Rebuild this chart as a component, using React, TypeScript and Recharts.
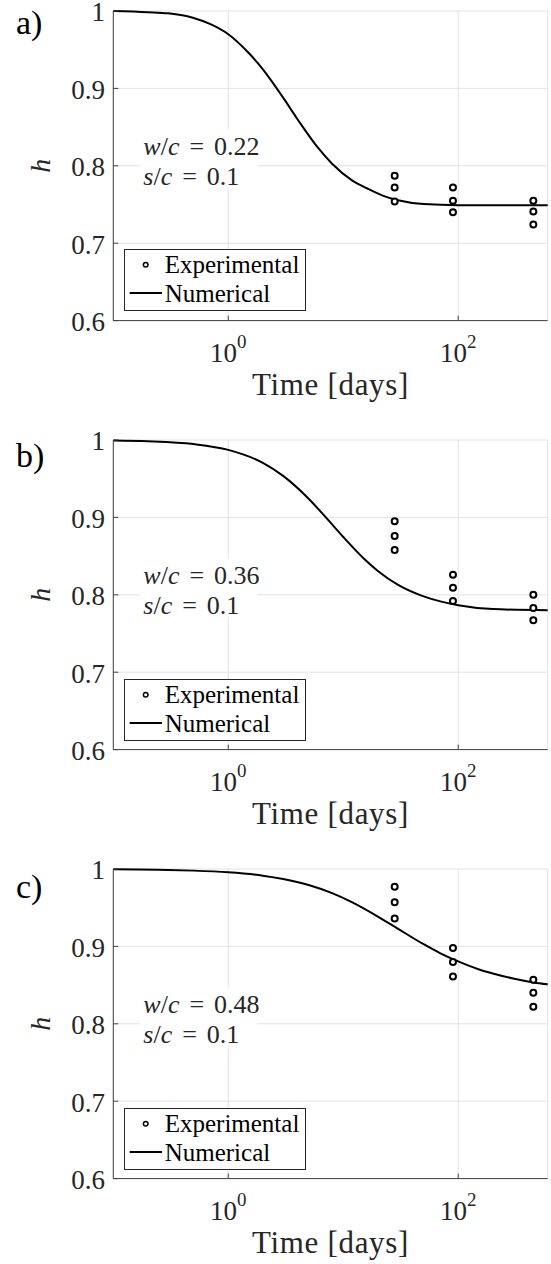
import React from "react";
import {
  CartesianGrid,
  ComposedChart,
  Customized,
  Legend,
  Line,
  Scatter,
  XAxis,
  YAxis,
} from "recharts";

// numerical curves (time in days, h)
const curveTimesA = [0.1, 0.2, 0.3, 0.5, 0.7, 1, 1.5, 2, 3, 4, 6, 8, 12, 16, 22, 30, 50, 100, 600];
const curveA = [1, 0.9985, 0.997, 0.991, 0.983, 0.97, 0.946, 0.9246, 0.888, 0.8602, 0.8237, 0.8026, 0.7808, 0.771, 0.7615, 0.7555, 0.7505, 0.749, 0.749];

const curveTimesB = [0.1, 0.2, 0.5, 1, 2, 3, 5, 7, 10, 15, 20, 30, 50, 70, 100, 200, 600];
const curveB = [0.9994, 0.9984, 0.9947, 0.9872, 0.9704, 0.9536, 0.9241, 0.9006, 0.8747, 0.8473, 0.8308, 0.8128, 0.798, 0.7915, 0.7865, 0.7815, 0.78];

const curveTimesC = [0.1, 0.3, 0.5, 1, 2, 3, 5, 8, 12, 20, 30, 50, 70, 100, 150, 200, 300, 450, 600];
const curveC = [0.9996, 0.9988, 0.9979, 0.9957, 0.9914, 0.9871, 0.9793, 0.9688, 0.9569, 0.9386, 0.9227, 0.9028, 0.8911, 0.8806, 0.8705, 0.865, 0.8585, 0.8535, 0.851];

// experimental points
const expTimes = [28, 28, 28, 90, 90, 90, 450, 450, 450];
const expA = [0.787, 0.772, 0.754, 0.772, 0.755, 0.74, 0.755, 0.741, 0.724];
const expB = [0.895, 0.876, 0.858, 0.826, 0.809, 0.792, 0.8, 0.783, 0.767];
const expC = [0.977, 0.957, 0.936, 0.898, 0.88, 0.861, 0.857, 0.84, 0.822];

const panelLabels = ["a)", "b)", "c)"];
const wcValues = ["0.22", "0.36", "0.48"];
const scValues = ["0.1", "0.1", "0.1"];

const xTicks = [1, 100];
const yTicks = [0.6, 0.7, 0.8, 0.9, 1];
const xDomain = [0.1, 600];
const yDomain = [0.6, 1];
const seriesNames = ["Experimental", "Numerical"];

const FONT = '"Liberation Serif", Tinos, "Times New Roman", "DejaVu Serif", serif';
const INK = "#262626";
const AXIS = "#404040";
const serif = { fontFamily: FONT };
const serifItalic = { fontFamily: FONT, fontStyle: "italic" as const };

const PLOT_LEFT = 113.3;
const PLOT_TOP = 30;
const PLOT_W = 434.4;
const PLOT_H = 309.6;
const CHART_W = 551;
const CHART_H = PLOT_TOP + PLOT_H + 84.7;

const toPoints = (ts: number[], hs: number[]) => ts.map((t, i) => ({ t, h: hs[i] }));

const YTick = ({ x, y, payload }: any) => (
  <text x={x} y={y} dy={10.5} textAnchor="end" fontSize={27} style={serif} fill={INK}>
    {payload.value === 1 ? "1" : payload.value.toFixed(1)}
  </text>
);

const PowerTick = ({ x, y, payload }: any) => (
  <text x={x} y={y + 41.4} textAnchor="middle" fontSize={27} style={serif} fill={INK}>
    <tspan>10</tspan>
    <tspan dy={-13.5} fontSize={19}>
      {Math.round(Math.log10(payload.value))}
    </tspan>
  </text>
);

const Hollow = ({ cx, cy }: any) => (
  <circle cx={cx} cy={cy} r={3} fill="#fff" stroke="#000" strokeWidth={2} />
);

function LegendBox() {
  return (
    <svg width={182} height={62} style={{ display: "block" }}>
      <rect x={0.5} y={0.5} width={181} height={61} fill="#fff" stroke={INK} strokeWidth={1} />
      <circle cx={21.7} cy={15.7} r={2.3} fill="#fff" stroke="#000" strokeWidth={1.5} />
      <text x={40.7} y={24} fontSize={25} style={serif} fill="#000">
        {seriesNames[0]}
      </text>
      <line x1={5.7} x2={38} y1={44} y2={44} stroke="#000" strokeWidth={2} />
      <text x={40.7} y={53.4} fontSize={25} style={serif} fill="#000">
        {seriesNames[1]}
      </text>
    </svg>
  );
}

function Decorations({ label, labelDy, wc, sc }: { label: string; labelDy: number; wc: string; sc: string }) {
  const line1 = PLOT_TOP + 144;
  const line2 = PLOT_TOP + 174;
  const plotBottom = PLOT_TOP + PLOT_H;
  const midY = PLOT_TOP + PLOT_H / 2;
  return (
    <g fill="#000">
      <text x={16} y={PLOT_TOP + labelDy} fontSize={34} style={serif}>
        {label}
      </text>
      <text
        x={41}
        y={midY}
        fontSize={28}
        style={serifItalic}
        textAnchor="middle"
        dominantBaseline="central"
        transform={`rotate(-90 41 ${midY})`}
        fill={INK}
      >
        h
      </text>
      <text
        x={PLOT_LEFT + PLOT_W / 2}
        y={plotBottom + 74.7}
        fontSize={31}
        style={serif}
        letterSpacing={0.7}
        textAnchor="middle"
        fill={INK}
      >
        Time [days]
      </text>
      <rect x={140} y={PLOT_TOP + 119} width={127} height={29} fill="#fff" />
      <rect x={140} y={PLOT_TOP + 148} width={117} height={29} fill="#fff" />
      <text x={143.3} y={line1} fontSize={26} style={serif} fill={INK}>
        <tspan style={serifItalic}>w</tspan>
        <tspan>/</tspan>
        <tspan style={serifItalic}>c</tspan>
        <tspan dx={10}>=</tspan>
        <tspan dx={10}>{wc}</tspan>
      </text>
      <text x={143.3} y={line2} fontSize={26} style={serif} fill={INK}>
        <tspan style={serifItalic}>s</tspan>
        <tspan>/</tspan>
        <tspan style={serifItalic}>c</tspan>
        <tspan dx={10}>=</tspan>
        <tspan dx={10}>{sc}</tspan>
      </text>
    </g>
  );
}

function HydrationPanel({
  curve,
  exp,
  label,
  labelDy,
  wc,
  sc,
}: {
  curve: { t: number; h: number }[];
  exp: { t: number; h: number }[];
  label: string;
  labelDy: number;
  wc: string;
  sc: string;
}) {
  return (
    <ComposedChart
      width={CHART_W}
      height={CHART_H}
      margin={{ top: PLOT_TOP, right: CHART_W - PLOT_LEFT - PLOT_W, bottom: 0, left: 0 }}
    >
      <CartesianGrid stroke="#e3e3e3" strokeWidth={1} />
      <XAxis
        dataKey="t"
        type="number"
        scale="log"
        domain={xDomain}
        ticks={xTicks}
        height={CHART_H - PLOT_TOP - PLOT_H}
        axisLine={{ stroke: AXIS }}
        tickLine={{ stroke: AXIS }}
        tickSize={-5}
        tickMargin={5}
        tick={<PowerTick />}
        interval={0}
      />
      <XAxis
        xAxisId="top"
        orientation="top"
        type="number"
        scale="log"
        domain={xDomain}
        ticks={xTicks}
        height={0}
        axisLine={{ stroke: AXIS }}
        tickLine={{ stroke: AXIS }}
        tickSize={-5}
        tick={false}
        interval={0}
      />
      <YAxis
        dataKey="h"
        type="number"
        domain={yDomain}
        ticks={yTicks}
        width={PLOT_LEFT}
        axisLine={{ stroke: AXIS }}
        tickLine={{ stroke: AXIS }}
        tickSize={-5}
        tickMargin={13.3}
        tick={<YTick />}
        interval={0}
      />
      <YAxis
        yAxisId="right"
        orientation="right"
        type="number"
        domain={yDomain}
        ticks={yTicks}
        width={0}
        axisLine={{ stroke: AXIS }}
        tickLine={{ stroke: AXIS }}
        tickSize={-5}
        tick={false}
        interval={0}
      />
      <Line
        data={curve}
        dataKey="h"
        type="monotone"
        stroke="#000"
        strokeWidth={2}
        dot={false}
        activeDot={false}
        isAnimationActive={false}
        name={seriesNames[1]}
      />
      <Scatter data={exp} dataKey="h" shape={<Hollow />} isAnimationActive={false} name={seriesNames[0]} />
      <Legend
        layout="vertical"
        align="center"
        verticalAlign="middle"
        wrapperStyle={{ left: 124.3, top: PLOT_TOP + 238.6, width: 182, height: 62 }}
        content={() => <LegendBox />}
      />
      <Customized component={() => <Decorations label={label} labelDy={labelDy} wc={wc} sc={sc} />} />
    </ComposedChart>
  );
}

// page y of each plot's top edge in the reference
const plotTops = [10.7, 440.3, 869];
const labelDys = [22.6, 27, 29.3];
const curves = [toPoints(curveTimesA, curveA), toPoints(curveTimesB, curveB), toPoints(curveTimesC, curveC)];
const exps = [toPoints(expTimes, expA), toPoints(expTimes, expB), toPoints(expTimes, expC)];

export default function App() {
  return (
    <div
      style={{
        position: "absolute",
        left: 0,
        top: 0,
        width: 551,
        height: 1264,
        background: "#fff",
        overflow: "hidden",
      }}
    >
      {panelLabels.map((label, i) => (
        <div key={label} style={{ position: "absolute", left: 0, top: plotTops[i] - PLOT_TOP }}>
          <HydrationPanel
            curve={curves[i]}
            exp={exps[i]}
            label={label}
            labelDy={labelDys[i]}
            wc={wcValues[i]}
            sc={scValues[i]}
          />
        </div>
      ))}
    </div>
  );
}
